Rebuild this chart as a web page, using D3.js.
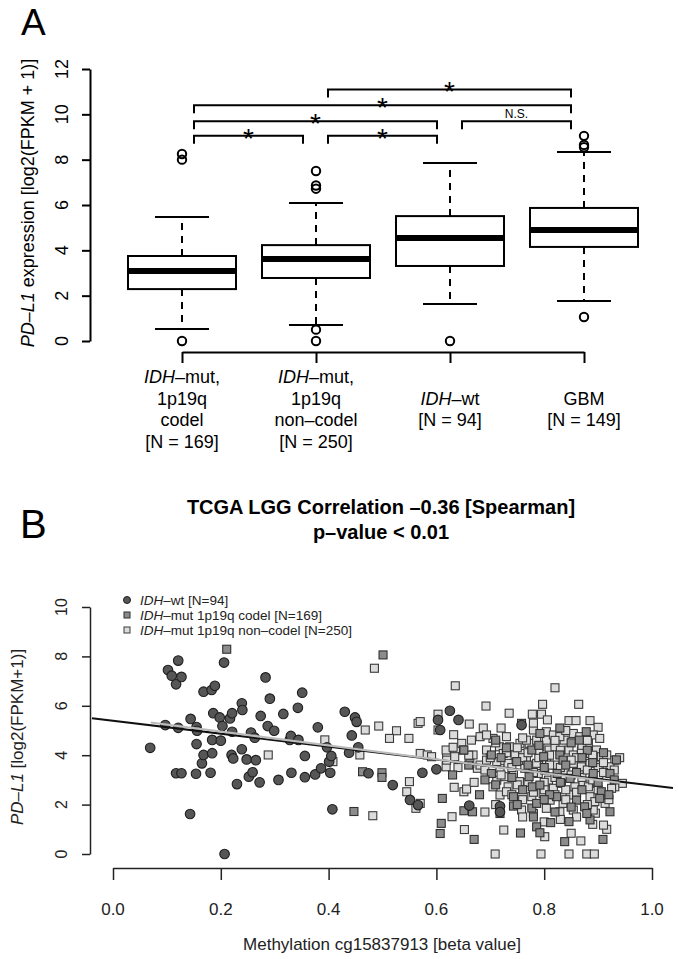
<!DOCTYPE html>
<html><head><meta charset="utf-8">
<script src="https://cdn.jsdelivr.net/npm/d3@7"></script>
<style>
body{margin:0;background:#fff}
svg{display:block;font-family:"Liberation Sans",Arial,Helvetica,sans-serif}
</style></head><body>
<svg id="c" width="678" height="959"></svg>
<script>
// ---------- Panel A data ----------
const groupsA = ["codel", "noncodel", "wt", "gbm"];
const q1A = [2.29, 2.78, 3.31, 4.15];
const medA = [3.09, 3.62, 4.54, 4.90];
const q3A = [3.75, 4.23, 5.51, 5.87];
const loWhiskA = [0.53, 0.71, 1.63, 1.76];
const hiWhiskA = [5.47, 6.09, 7.85, 8.34];
const outliersA = [[0.0, 8.0, 8.25], [0.0, 0.5, 6.72, 6.86, 7.5], [0.0], [1.06, 8.55, 8.65, 9.05]];
const yTicksA = [0, 2, 4, 6, 8, 10, 12];
const labelLinesA = [
  ["_IDH_–mut,", "1p19q", "codel", "[N = 169]"],
  ["_IDH_–mut,", "1p19q", "non–codel", "[N = 250]"],
  ["_IDH_–wt", "[N = 94]"],
  ["GBM", "[N = 149]"]
];
const labelStartLineA = [0, 0, 1, 1];
const bracketFrom = [0, 1, 0, 2, 0, 1];
const bracketTo = [1, 2, 2, 3, 3, 3];
const bracketLevel = [9.05, 9.05, 9.7, 9.7, 10.4, 11.1];
const bracketLabel = ["*", "*", "*", "N.S.", "*", "*"];

// ---------- Panel B data ----------
const xTicksB = [0, 0.2, 0.4, 0.6, 0.8, 1.0];
const yTicksB = [0, 2, 4, 6, 8, 10];
const legendB = ["_IDH_–wt [N=94]", "_IDH_–mut 1p19q codel [N=169]", "_IDH_–mut 1p19q non–codel [N=250]"];
const regLineX = [-0.039, 1.039], regLineY = [5.50, 2.67];
const trendLineX = [0.07, 0.94], trendLineY = [5.32, 2.88];

const wtPoints = [[0.069,4.30],[0.121,7.83],[0.102,7.45],[0.109,7.22],[0.117,6.87],[0.127,7.17],[0.097,5.22],[0.121,5.11],[0.117,3.27],[0.127,3.27],[0.143,1.62],[0.144,5.47],[0.155,5.14],[0.156,4.99],[0.155,4.45],[0.154,3.25],[0.165,3.67],[0.168,4.01],[0.168,6.57],[0.183,6.64],[0.189,6.81],[0.181,3.29],[0.184,4.08],[0.184,4.62],[0.186,5.70],[0.198,5.53],[0.200,4.59],[0.203,5.18],[0.206,7.75],[0.207,0.00],[0.217,5.49],[0.221,5.70],[0.221,4.95],[0.220,4.01],[0.223,3.87],[0.239,6.10],[0.240,5.83],[0.239,4.24],[0.230,2.83],[0.248,3.83],[0.252,3.13],[0.259,3.31],[0.265,3.80],[0.272,2.90],[0.256,4.92],[0.263,4.71],[0.274,5.59],[0.283,7.15],[0.287,5.18],[0.291,6.29],[0.299,4.99],[0.307,3.00],[0.316,5.67],[0.328,4.62],[0.330,4.78],[0.331,3.29],[0.344,4.62],[0.343,5.92],[0.351,6.53],[0.356,3.97],[0.356,3.11],[0.375,3.22],[0.380,5.13],[0.386,3.47],[0.397,4.32],[0.401,3.74],[0.403,3.29],[0.405,3.97],[0.407,1.81],[0.430,5.76],[0.438,4.10],[0.443,4.80],[0.449,5.53],[0.452,5.35],[0.455,4.32],[0.474,3.27],[0.519,2.79],[0.551,2.19],[0.566,1.98],[0.574,3.29],[0.600,3.43],[0.603,5.43],[0.607,5.02],[0.625,5.80],[0.641,5.43],[0.661,1.96],[0.718,1.93],[0.758,5.22],[0.718,1.70]];

const codelPoints = [[0.211,8.29],[0.501,8.06],[0.447,1.72],[0.463,3.33],[0.499,3.29],[0.499,3.10],[0.611,2.25],[0.609,1.24],[0.607,0.83],[0.651,1.75],[0.667,1.71],[0.670,0.59],[0.650,4.21],[0.758,5.29],[0.829,5.10],[0.718,1.64],[0.743,1.94],[0.756,0.85],[0.777,1.86],[0.786,1.10],[0.792,0.86],[0.812,1.27],[0.846,1.31],[0.838,0.50],[0.909,0.59],[0.922,1.71],[0.885,1.38],[0.934,3.81],[0.922,3.26],[0.702,4.01],[0.710,4.61],[0.777,4.21],[0.799,3.94],[0.829,4.01],[0.865,4.61],[0.702,3.26],[0.772,3.13],[0.778,2.72],[0.792,2.79],[0.824,3.26],[0.848,3.06],[0.891,3.26],[0.906,2.52],[0.743,2.32],[0.786,2.05],[0.823,2.32],[0.860,2.18],[0.875,1.91],[0.903,2.25],[0.879,1.64],[0.749,3.74],[0.835,3.80],[0.792,4.88],[0.878,4.95],[0.651,4.21],[0.72,3.9],[0.74,3.1],[0.76,2.6],[0.80,3.5],[0.81,2.4],[0.83,2.9],[0.84,3.6],[0.86,3.3],[0.87,2.6],[0.88,4.2],[0.89,3.7],[0.90,2.9],[0.91,4.1],[0.85,1.9],[0.82,1.7],[0.77,3.6],[0.73,4.3],[0.69,3.0],[0.68,2.4],[0.66,3.6],[0.63,3.2],[0.79,4.4],[0.85,4.5],[0.87,3.9],[0.80,2.2],[0.75,2.0],[0.93,3.0],[0.92,2.4],[0.71,2.8],[0.78,1.5]];

const noncodelPoints = [[0.485,7.52],[0.635,6.81],[0.820,6.73],[0.692,5.99],[0.797,6.06],[0.864,6.06],[0.735,5.70],[0.778,5.66],[0.795,5.66],[0.603,5.66],[0.806,5.43],[0.566,5.29],[0.570,5.36],[0.468,5.02],[0.493,5.18],[0.526,4.99],[0.513,4.68],[0.549,4.68],[0.661,5.26],[0.687,5.10],[0.632,4.83],[0.603,5.02],[0.846,5.40],[0.859,5.40],[0.885,5.40],[0.900,5.13],[0.393,4.62],[0.288,4.01],[0.408,3.74],[0.458,4.01],[0.570,4.07],[0.583,4.01],[0.591,3.94],[0.550,2.93],[0.545,2.52],[0.570,2.05],[0.562,1.85],[0.482,1.55],[0.619,4.07],[0.618,3.53],[0.629,1.51],[0.651,2.52],[0.656,2.63],[0.633,2.70],[0.652,0.99],[0.676,3.47],[0.647,4.48],[0.709,0.00],[0.725,0.97],[0.801,0.70],[0.794,0.00],[0.850,0.84],[0.868,0.53],[0.846,0.00],[0.879,0.00],[0.893,0.00],[0.916,1.00],[0.910,1.17],[0.945,2.86],[0.931,2.72],[0.895,1.65],
[0.618,4.21],[0.631,4.32],[0.665,4.61],[0.668,4.01],[0.681,4.75],[0.693,4.21],[0.717,4.34],[0.724,4.07],[0.736,4.34],[0.746,4.01],[0.755,4.48],[0.760,4.07],[0.772,4.48],[0.786,4.61],[0.792,4.34],[0.804,4.61],[0.809,4.21],[0.820,4.34],[0.837,4.61],[0.846,4.21],[0.854,4.01],[0.869,4.21],[0.882,4.48],[0.886,4.07],[0.897,4.21],[0.906,3.94],[0.916,4.01],[0.931,3.80],
[0.712,2.99],[0.718,3.47],[0.727,3.13],[0.733,2.72],[0.743,3.26],[0.754,2.93],[0.764,3.47],[0.789,3.26],[0.801,3.40],[0.808,2.99],[0.817,2.66],[0.832,2.86],[0.838,3.40],[0.857,2.72],[0.865,3.33],[0.872,2.93],[0.882,2.72],[0.898,2.86],[0.916,3.13],[0.925,2.66],
[0.705,2.72],[0.718,2.39],[0.730,2.52],[0.777,2.32],[0.798,2.45],[0.811,2.18],[0.835,2.05],[0.848,2.39],[0.885,2.32],[0.894,2.12],[0.913,2.05],[0.891,1.78],[0.854,1.78],[0.829,1.71],[0.804,1.85],[0.780,1.64],[0.758,1.78],
[0.619,3.80],[0.634,3.94],[0.662,3.67],[0.681,3.60],[0.693,3.80],[0.712,3.74],[0.733,3.67],[0.767,3.80],[0.786,3.67],[0.804,3.74],[0.820,3.60],[0.854,3.67],[0.869,3.53],[0.885,3.67],[0.903,3.60],[0.922,3.53],
[0.780,5.02],[0.804,4.95],[0.817,4.82],[0.829,4.75],[0.854,4.88],[0.866,4.75],[0.891,4.82],[0.903,4.68],[0.767,4.61],[0.730,4.75],[0.705,4.68],[0.693,4.82],
[0.70,3.9],[0.72,3.2],[0.74,3.5],[0.75,2.8],[0.76,3.9],[0.77,2.9],[0.78,3.3],[0.79,3.9],[0.80,2.9],[0.81,3.6],[0.82,3.1],[0.83,3.5],[0.84,2.6],[0.85,3.2],[0.86,3.9],[0.87,3.1],[0.88,3.4],[0.89,3.0],[0.90,3.5],[0.91,3.3],[0.73,4.1],[0.75,4.3],[0.77,4.1],[0.79,4.2],[0.81,4.0],[0.83,4.2],[0.85,3.8],[0.87,4.4],[0.89,4.0],[0.91,3.7],[0.74,2.4],[0.76,2.2],[0.78,2.5],[0.80,2.6],[0.82,2.4],[0.84,2.2],[0.86,2.5],[0.88,2.0],[0.90,2.6],[0.92,2.2],[0.69,3.4],[0.67,2.9],[0.66,4.0],[0.64,3.5],[0.71,4.5],[0.76,4.7],[0.82,4.6],[0.88,4.6],[0.84,5.0],[0.78,5.3],[0.72,5.1],[0.93,3.4],[0.94,3.9],[0.86,1.5],[0.83,1.4],[0.80,1.3],[0.89,1.2],[0.76,1.5],[0.71,2.0],[0.69,1.7]];

// ---------- helpers ----------
const svg = d3.select("#c");
function rich(sel, str) {
  str.split("_").forEach((p, i) => {
    if (p !== "") sel.append("tspan").attr("font-style", i % 2 ? "italic" : "normal").text(p);
  });
  return sel;
}

// ================= PANEL A =================
svg.append("text").attr("x", 21).attr("y", 35).attr("font-size", 37).text("A");

const yA = d3.scaleLinear().domain([0, 12]).range([341, 69]);
const xA = d3.scalePoint().domain(groupsA).range([182, 584]);
const boxHalf = 54, capHalf = 27;

const gYA = svg.append("g").attr("transform", "translate(90,0)")
  .call(d3.axisLeft(yA).tickValues(yTicksA).tickSize(8).tickSizeOuter(0).tickFormat(""));
gYA.selectAll("path,line").attr("stroke", "#000").attr("stroke-width", 2);
svg.append("g").selectAll("text").data(yTicksA).join("text")
  .attr("transform", d => `translate(68,${yA(d)}) rotate(-90)`)
  .attr("text-anchor", "middle").attr("font-size", 18).text(d => d);
rich(svg.append("text").attr("transform", "translate(34,203) rotate(-90)")
  .attr("text-anchor", "middle").attr("font-size", 18), "_PD–L1_ expression [log2(FPKM + 1)]");

const gXA = svg.append("g").attr("transform", "translate(0,352)")
  .call(d3.axisBottom(xA).tickSize(11).tickSizeOuter(0).tickFormat(""));
gXA.selectAll("path,line").attr("stroke", "#000").attr("stroke-width", 2);

groupsA.forEach((g, i) => {
  const cx = xA(g);
  const gb = svg.append("g").attr("stroke", "#000").attr("fill", "none");
  gb.append("line").attr("x1", cx).attr("x2", cx).attr("y1", yA(q3A[i])).attr("y2", yA(hiWhiskA[i]))
    .attr("stroke-width", 2).attr("stroke-dasharray", "7,6");
  gb.append("line").attr("x1", cx).attr("x2", cx).attr("y1", yA(q1A[i])).attr("y2", yA(loWhiskA[i]))
    .attr("stroke-width", 2).attr("stroke-dasharray", "7,6");
  [hiWhiskA[i], loWhiskA[i]].forEach(v => gb.append("line")
    .attr("x1", cx - capHalf).attr("x2", cx + capHalf).attr("y1", yA(v)).attr("y2", yA(v)).attr("stroke-width", 2));
  gb.append("rect").attr("x", cx - boxHalf).attr("width", 2 * boxHalf)
    .attr("y", yA(q3A[i])).attr("height", yA(q1A[i]) - yA(q3A[i])).attr("fill", "#fff").attr("stroke-width", 2);
  gb.append("line").attr("x1", cx - boxHalf).attr("x2", cx + boxHalf).attr("y1", yA(medA[i])).attr("y2", yA(medA[i]))
    .attr("stroke-width", 6);
  gb.selectAll("circle").data(outliersA[i]).join("circle")
    .attr("cx", cx).attr("cy", d => yA(d)).attr("r", 4.2).attr("stroke-width", 2);
  labelLinesA[i].forEach((ln, k) => {
    rich(svg.append("text").attr("x", cx).attr("y", 383 + (labelStartLineA[i] + k) * 21.5)
      .attr("text-anchor", "middle").attr("font-size", 18), ln);
  });
});

bracketFrom.forEach((a, i) => {
  const x1 = xA(groupsA[a]) + 12, x2 = xA(groupsA[bracketTo[i]]) - 13, y = yA(bracketLevel[i]);
  svg.append("path").attr("d", `M${x1},${y + 8}V${y}H${x2}V${y + 8}`)
    .attr("fill", "none").attr("stroke", "#000").attr("stroke-width", 2);
  if (bracketLabel[i] === "*") {
    svg.append("text").attr("x", (x1 + x2) / 2).attr("y", y + 12).attr("text-anchor", "middle")
      .attr("font-size", 28).text("*");
  } else {
    svg.append("text").attr("x", (x1 + x2) / 2).attr("y", y - 3).attr("text-anchor", "middle")
      .attr("font-size", 12).text(bracketLabel[i]);
  }
});

// ================= PANEL B =================
svg.append("text").attr("x", 20).attr("y", 538).attr("font-size", 40).text("B");
svg.append("text").attr("x", 381).attr("y", 514).attr("text-anchor", "middle")
  .attr("font-size", 20).attr("font-weight", "bold").text("TCGA LGG Correlation –0.36 [Spearman]");
svg.append("text").attr("x", 381).attr("y", 539).attr("text-anchor", "middle")
  .attr("font-size", 20).attr("font-weight", "bold").text("p–value < 0.01");

const xB = d3.scaleLinear().domain([0, 1]).range([113, 652]);
const yB = d3.scaleLinear().domain([0, 10]).range([854, 607]);

const gXB = svg.append("g").attr("transform", "translate(0,868)")
  .call(d3.axisBottom(xB).tickValues(xTicksB).tickSize(12).tickSizeOuter(0).tickFormat(""));
gXB.selectAll("path,line").attr("stroke", "#222").attr("stroke-width", 1.5);
svg.append("g").selectAll("text").data(xTicksB).join("text")
  .attr("x", d => xB(d)).attr("y", 915).attr("text-anchor", "middle").attr("font-size", 17)
  .attr("fill", "#222").text(d => d3.format(".1f")(d));
svg.append("text").attr("x", 382).attr("y", 950).attr("text-anchor", "middle").attr("font-size", 17)
  .attr("fill", "#222").text("Methylation cg15837913 [beta value]");

const gYB = svg.append("g").attr("transform", "translate(90,0)")
  .call(d3.axisLeft(yB).tickValues(yTicksB).tickSize(8).tickSizeOuter(0).tickFormat(""));
gYB.selectAll("path,line").attr("stroke", "#222").attr("stroke-width", 1.5);
svg.append("g").selectAll("text").data(yTicksB).join("text")
  .attr("transform", d => `translate(67,${yB(d)}) rotate(-90)`)
  .attr("text-anchor", "middle").attr("font-size", 16).attr("fill", "#222").text(d => d);
rich(svg.append("text").attr("transform", "translate(23,737) rotate(-90)")
  .attr("text-anchor", "middle").attr("font-size", 17).attr("fill", "#222"), "_PD–L1_ [log2(FPKM+1)]");

const sq = 8;
svg.append("g").selectAll("rect").data(noncodelPoints).join("rect")
  .attr("x", d => xB(d[0]) - sq / 2).attr("y", d => yB(d[1]) - sq / 2).attr("width", sq).attr("height", sq)
  .attr("fill", "#dcdcdc").attr("stroke", "#3a3a3a").attr("stroke-width", 1.1);
svg.append("g").selectAll("rect").data(codelPoints).join("rect")
  .attr("x", d => xB(d[0]) - sq / 2).attr("y", d => yB(d[1]) - sq / 2).attr("width", sq).attr("height", sq)
  .attr("fill", "#8c8c8c").attr("stroke", "#2f2f2f").attr("stroke-width", 1.1);
svg.append("g").selectAll("circle").data(wtPoints).join("circle")
  .attr("cx", d => xB(d[0])).attr("cy", d => yB(d[1])).attr("r", 4.8)
  .attr("fill", "#565656").attr("stroke", "#1e1e1e").attr("stroke-width", 1.1);

svg.append("line").attr("x1", xB(regLineX[0])).attr("x2", xB(regLineX[1]))
  .attr("y1", yB(regLineY[0])).attr("y2", yB(regLineY[1])).attr("stroke", "#111").attr("stroke-width", 2);
svg.append("line").attr("x1", xB(trendLineX[0])).attr("x2", xB(trendLineX[1]))
  .attr("y1", yB(trendLineY[0])).attr("y2", yB(trendLineY[1])).attr("stroke", "#bbb").attr("stroke-width", 2);

// legend
const legY = [600, 615, 630];
svg.append("circle").attr("cx", 127).attr("cy", legY[0]).attr("r", 3.5).attr("fill", "#565656").attr("stroke", "#1e1e1e");
svg.append("rect").attr("x", 124).attr("y", legY[1] - 3).attr("width", 6).attr("height", 6).attr("fill", "#8c8c8c").attr("stroke", "#2f2f2f");
svg.append("rect").attr("x", 124).attr("y", legY[2] - 3).attr("width", 6).attr("height", 6).attr("fill", "#dcdcdc").attr("stroke", "#3a3a3a");
legendB.forEach((t, i) => rich(svg.append("text").attr("x", 140).attr("y", legY[i] + 5)
  .attr("font-size", 13.5).attr("fill", "#222"), t));
</script>
</body></html>
